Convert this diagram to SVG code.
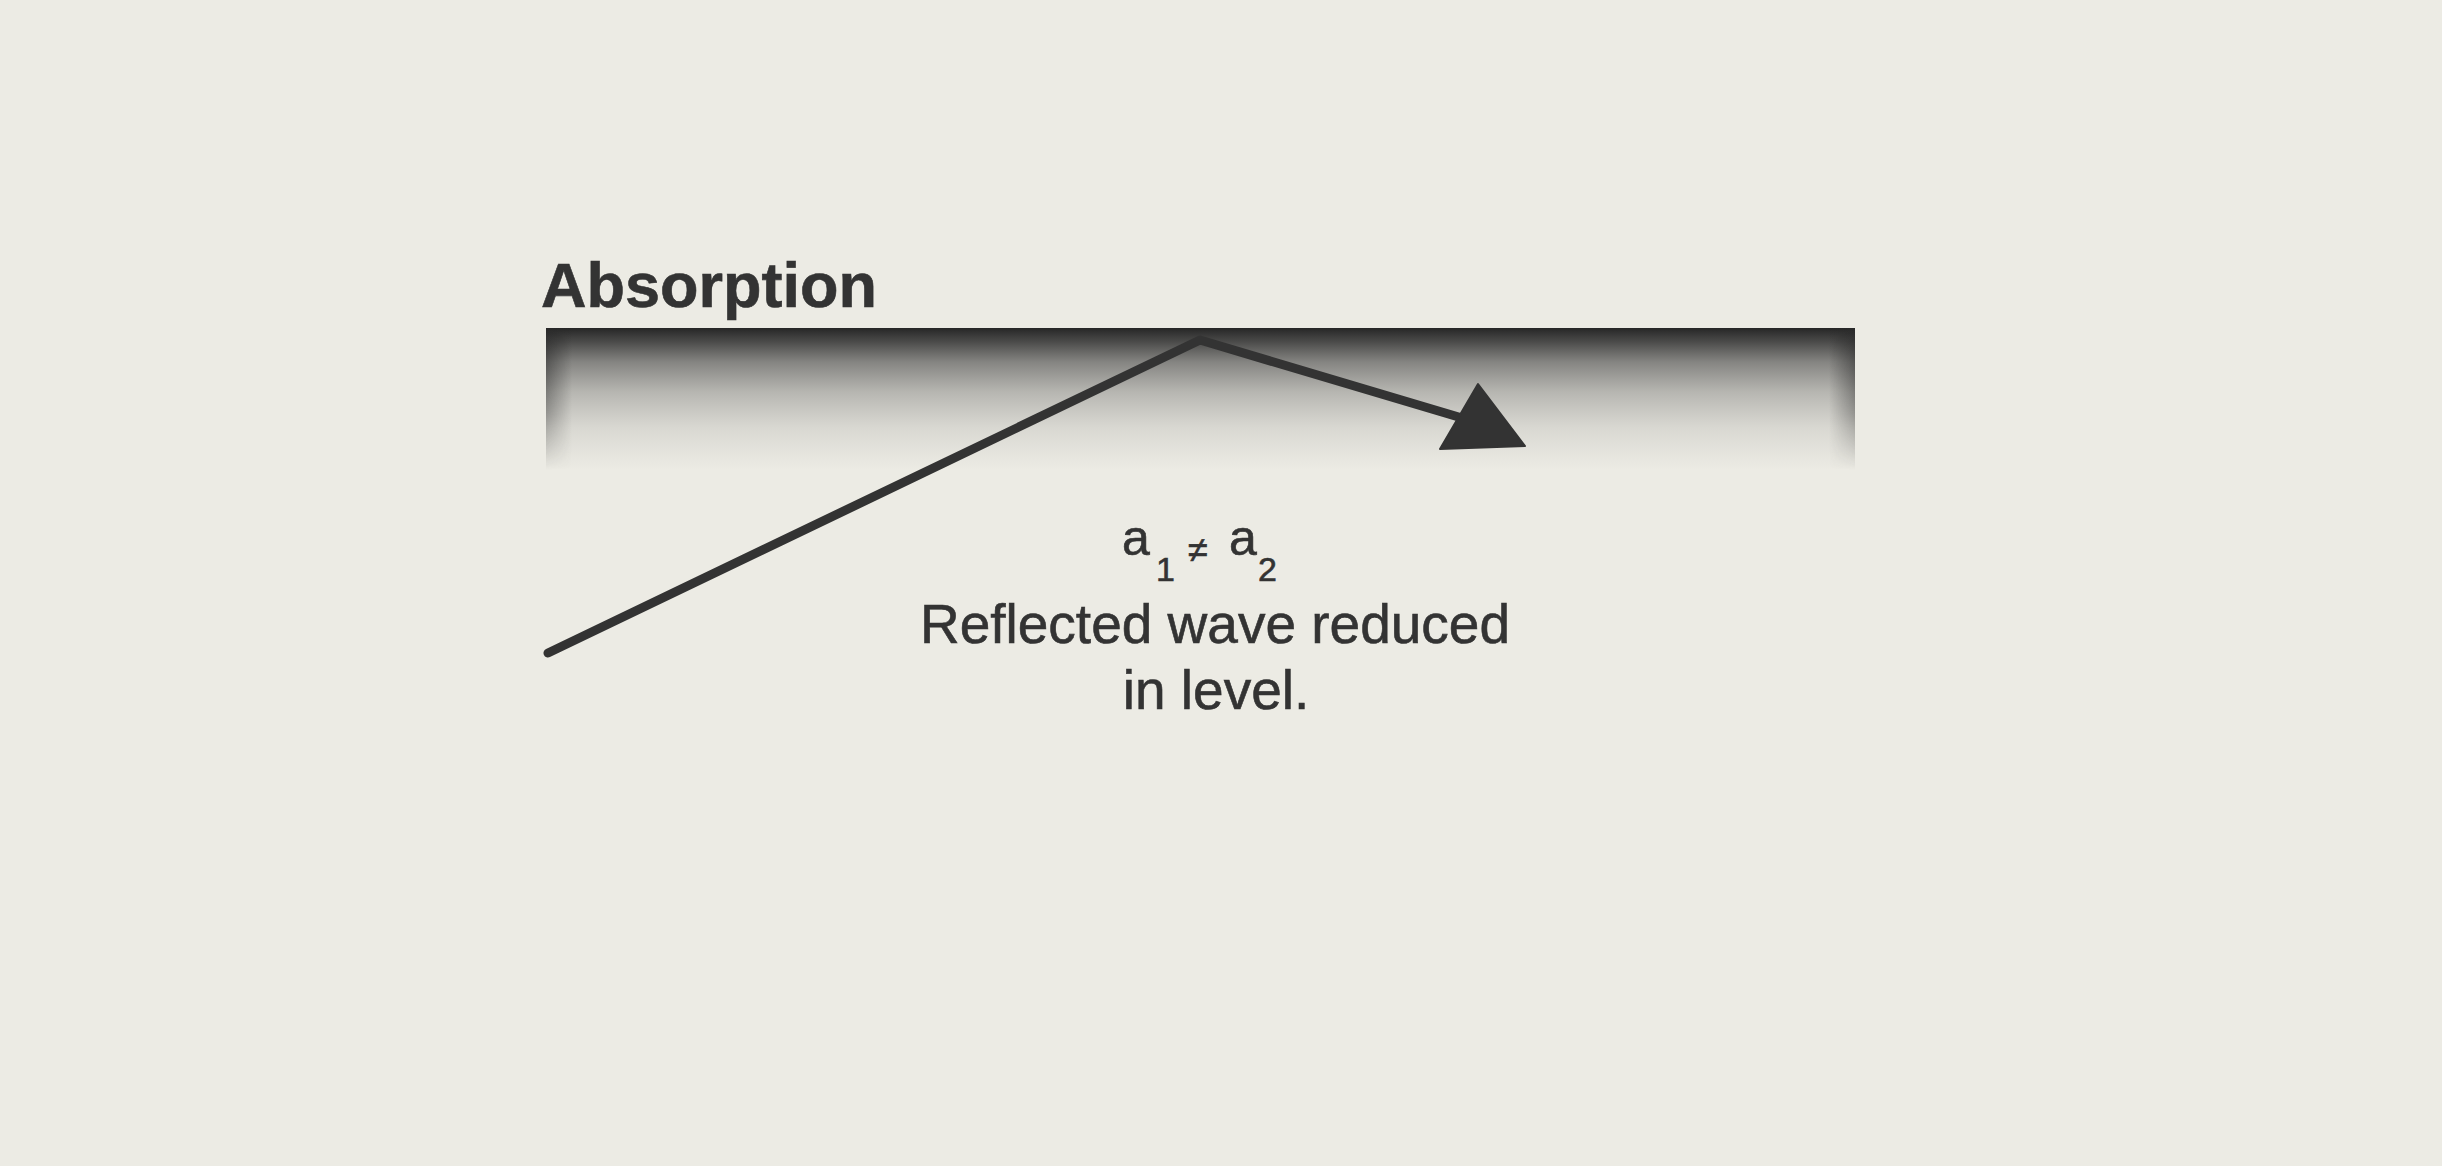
<svg xmlns="http://www.w3.org/2000/svg" width="2442" height="1166" viewBox="0 0 2442 1166">
  <defs>
    <style>
      .lbl { font-family: "Liberation Sans", Arial, sans-serif; fill: #333333; stroke: #333333; stroke-width: 0.6; }
      .title { font-size: 63px; font-weight: bold; }
      .body { font-size: 55px; }
      .ray { stroke: #333333; stroke-width: 9; fill: none; stroke-linecap: round; stroke-linejoin: round; }
    </style>
    <linearGradient id="vfade" x1="0" y1="0" x2="0" y2="1">
      <stop offset="0" stop-color="#262626" stop-opacity="1"/>
      <stop offset="0.1" stop-color="#303030" stop-opacity="0.85"/>
      <stop offset="0.24" stop-color="#3a3a3a" stop-opacity="0.58"/>
      <stop offset="0.45" stop-color="#444444" stop-opacity="0.32"/>
      <stop offset="0.7" stop-color="#555555" stop-opacity="0.13"/>
      <stop offset="1" stop-color="#666666" stop-opacity="0"/>
    </linearGradient>
    <linearGradient id="hleft" x1="0" y1="0" x2="1" y2="0">
      <stop offset="0" stop-color="#2a2a2a" stop-opacity="0.65"/>
      <stop offset="1" stop-color="#2a2a2a" stop-opacity="0"/>
    </linearGradient>
    <linearGradient id="hright" x1="1" y1="0" x2="0" y2="0">
      <stop offset="0" stop-color="#2a2a2a" stop-opacity="0.65"/>
      <stop offset="1" stop-color="#2a2a2a" stop-opacity="0"/>
    </linearGradient>
    <linearGradient id="maskgrad" x1="0" y1="0" x2="0" y2="1">
      <stop offset="0" stop-color="#ffffff"/>
      <stop offset="0.6" stop-color="#888888"/>
      <stop offset="1" stop-color="#000000"/>
    </linearGradient>
    <mask id="sidemask" maskUnits="userSpaceOnUse" x="540" y="320" width="1320" height="160">
      <rect x="540" y="328" width="1320" height="142" fill="url(#maskgrad)"/>
    </mask>
  </defs>

  <rect x="0" y="0" width="2442" height="1166" fill="#ecebe4"/>

  <g id="absorber">
    <rect x="546" y="328" width="1309" height="142" fill="url(#vfade)"/>
    <g mask="url(#sidemask)">
      <rect x="546" y="328" width="26" height="142" fill="url(#hleft)"/>
      <rect x="1829" y="328" width="26" height="142" fill="url(#hright)"/>
    </g>
    <text class="lbl title" x="541" y="307">Absorption</text>
  </g>

  <g id="connectors">
    <polyline class="ray" points="548,653 1200,340 1462,418"/>
    <polygon points="1478,384 1525,446 1440,449" fill="#333333" stroke="#333333" stroke-width="2" stroke-linejoin="round"/>
  </g>

  <g id="caption">
    <text class="lbl" x="1122" y="555" font-size="50">a</text>
    <text class="lbl" x="1156" y="581" font-size="34">1</text>
    <text class="lbl" x="1188" y="562" font-size="36">≠</text>
    <text class="lbl" x="1229" y="555" font-size="50">a</text>
    <text class="lbl" x="1258" y="581" font-size="34">2</text>
    <text class="lbl body" x="1215" y="643" text-anchor="middle">Reflected wave reduced</text>
    <text class="lbl body" x="1216" y="709" text-anchor="middle">in level.</text>
  </g>
</svg>
